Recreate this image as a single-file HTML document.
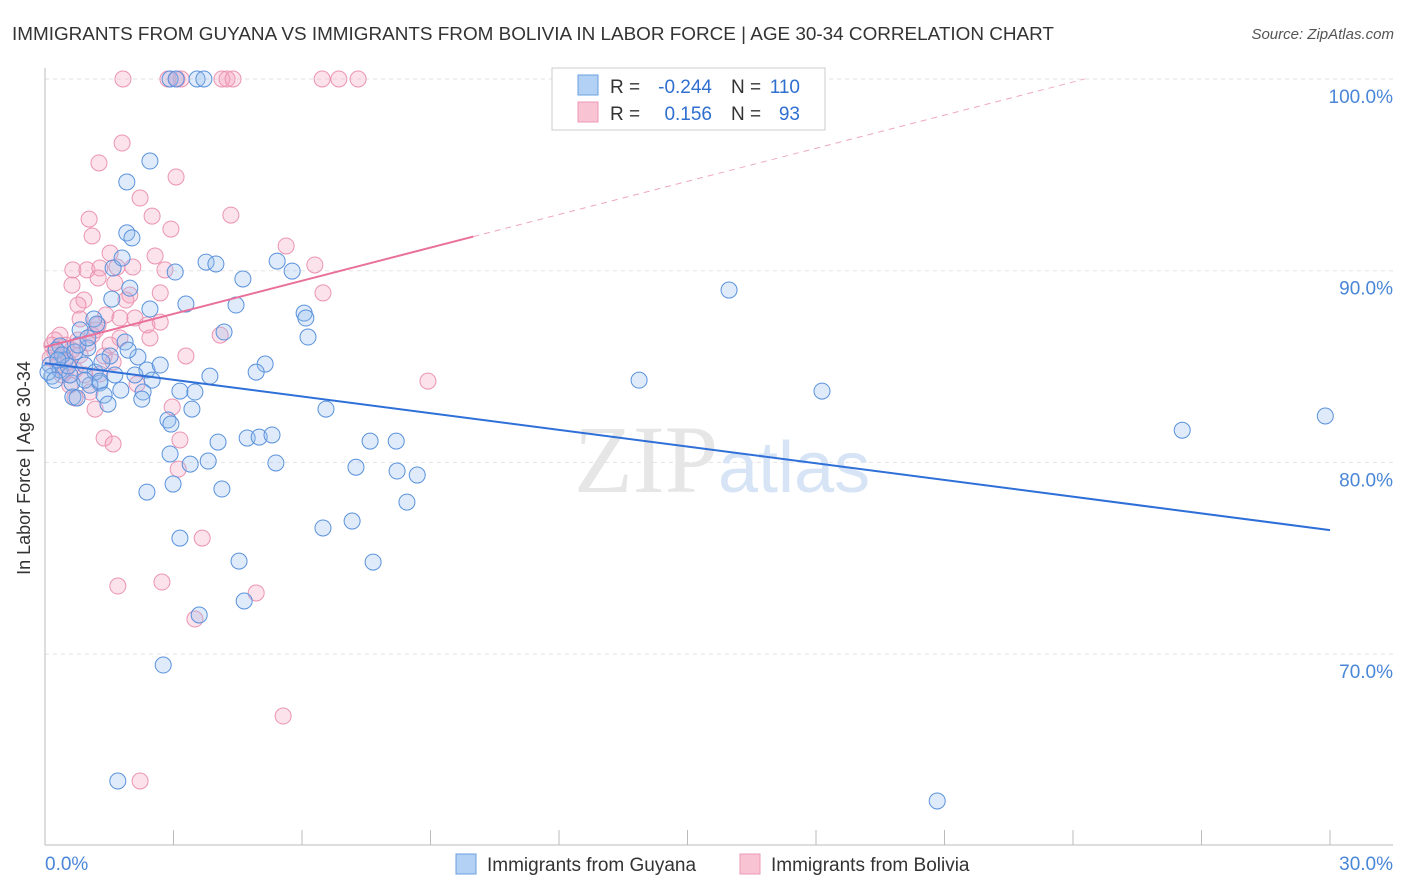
<!DOCTYPE html>
<html><head><meta charset="utf-8"><style>
body{margin:0;background:#fff;font-family:"Liberation Sans",sans-serif;}
#wrap{position:relative;width:1406px;height:892px;overflow:hidden;}
</style></head><body>
<div id="wrap">
<svg id="svg" width="1406" height="892" xmlns="http://www.w3.org/2000/svg">
<text x="12" y="40" font-size="18.9" fill="#333">IMMIGRANTS FROM GUYANA VS IMMIGRANTS FROM BOLIVIA IN LABOR FORCE | AGE 30-34 CORRELATION CHART</text>
<text x="1394" y="39" font-size="15" fill="#555" text-anchor="end" font-style="italic">Source: ZipAtlas.com</text>
<text x="20" y="458" font-size="18" fill="#333" text-anchor="middle" transform="rotate(-90 30 458)">In Labor Force | Age 30-34</text>
<g id="grid"></g>
<text x="718" y="492" font-size="96" fill="#e6e6e6" text-anchor="end" font-family="Liberation Serif,serif">ZIP</text>
<text x="718" y="492" font-size="72" fill="#d6e4f6">atlas</text>
<g id="pts"></g>
<g id="trend"></g>
<g>
<rect x="552" y="68" width="273" height="62" fill="#fff" stroke="#ccc"/>
<rect x="578" y="75" width="20" height="20" fill="#b3d0f5" stroke="#6a9fe0"/>
<rect x="578" y="102" width="20" height="20" fill="#f8c3d3" stroke="#ec9ab5"/>
<g font-size="19" fill="#333">
<text x="610" y="93">R =</text><text x="712" y="93" text-anchor="end" fill="#2f6fd0">-0.244</text>
<text x="731" y="93">N =</text><text x="800" y="93" text-anchor="end" fill="#2f6fd0">110</text></g>
<g font-size="19" fill="#333">
<text x="610" y="120">R =</text><text x="712" y="120" text-anchor="end" fill="#2f6fd0">0.156</text>
<text x="731" y="120">N =</text><text x="800" y="120" text-anchor="end" fill="#2f6fd0">93</text></g>
</g>
<g>
<rect x="456" y="854" width="20" height="20" fill="#b3d0f5" stroke="#6a9fe0"/>
<text x="487" y="871" font-size="19" fill="#333">Immigrants from Guyana</text>
<rect x="740" y="854" width="20" height="20" fill="#f8c3d3" stroke="#ec9ab5"/>
<text x="771" y="871" font-size="19" fill="#333">Immigrants from Bolivia</text>
</g>
</svg>
</div>
<script>
const xTicks=[0,30];
const yTicks=[100,90,80,70];
const guyanaX=[1.91,2.45,1.91,2.03,1.59,1.80,3.04,3.76,3.99,4.62,5.42,5.77,15.97,1.56,1.98,2.45,3.29,4.46,6.05,6.09,4.18,6.14,1.14,1.21,0.82,1.87,0.35,1.00,1.52,2.17,5.14,4.93,2.38,3.85,13.87,18.14,2.50,1.28,1.05,0.63,3.15,3.50,2.29,2.26,1.77,1.38,0.65,1.47,3.43,6.56,29.89,2.87,2.94,4.04,4.72,5.0,5.30,7.59,8.20,26.55,2.92,3.81,3.39,5.39,7.26,8.22,8.69,2.99,2.38,4.13,8.45,6.49,7.17,3.15,4.53,7.66,4.65,3.60,2.76,1.70,20.83,0.26,0.12,0.16,0.35,0.47,0.58,0.07,0.23,0.40,0.70,0.93,1.17,0.77,0.54,0.30,2.92,3.06,3.55,3.71,1.28,1.63,0.93,2.10,2.69,1.33,0.75,1.94,1.0];
const guyanaY=[94.63,95.72,91.97,91.71,90.14,90.66,89.93,90.45,90.35,89.57,90.50,89.98,88.99,88.52,89.09,88.0,88.26,88.21,87.79,87.53,86.80,86.54,87.48,87.22,86.91,86.28,86.07,85.97,85.55,85.50,85.13,84.71,84.82,84.50,84.29,83.72,84.29,84.14,84.03,84.14,83.72,83.67,83.67,83.30,83.77,83.51,83.41,83.04,82.78,82.78,82.42,82.21,82.0,81.06,81.27,81.32,81.43,81.11,81.11,81.68,80.44,80.07,79.91,79.97,79.75,79.55,79.34,78.87,78.45,78.61,77.93,76.58,76.94,76.05,74.85,74.80,72.77,72.04,69.43,63.38,62.34,85.86,85.08,84.50,84.82,85.34,84.56,84.71,84.29,85.60,85.76,85.08,84.71,86.12,85.03,85.34,100,100,100,100,84.24,84.56,84.29,84.56,85.08,85.24,83.36,85.86,86.49];
const boliviaX=[1.82,2.87,3.08,3.18,4.13,4.25,4.39,6.47,6.86,7.31,1.80,1.26,3.06,2.22,2.50,4.34,1.03,2.94,1.10,5.63,1.52,2.57,6.30,0.65,0.98,1.28,1.68,2.05,2.80,1.24,1.63,0.63,1.98,2.69,6.49,0.91,0.77,1.89,0.82,1.24,1.42,1.75,2.10,2.38,2.69,0.35,2.45,4.09,1.75,1.10,0.63,0.23,0.42,0.82,1.38,3.29,1.59,8.94,2.15,0.58,1.05,0.70,1.17,2.97,3.15,1.38,1.59,3.11,3.67,1.70,2.73,4.93,3.50,5.56,2.22,0.16,0.30,0.47,0.12,0.54,0.70,0.93,1.28,0.23,0.40,1.0,0.49,0.77,1.19,1.52];
const boliviaY=[100,100,100,100,100,100,100,100,100,100,96.66,95.62,94.89,93.79,92.85,92.90,92.69,92.17,91.81,91.29,90.92,90.77,90.30,90.04,90.04,90.14,90.19,90.19,90.04,89.62,89.36,89.25,88.73,88.84,88.84,88.47,88.21,88.47,87.48,87.17,87.69,87.53,87.53,87.17,87.32,86.64,86.49,86.64,86.49,86.64,85.86,85.76,85.60,85.60,85.55,85.55,85.24,84.24,84.09,84.03,83.67,83.36,82.78,82.89,81.17,81.27,80.96,79.65,76.05,73.55,73.76,73.19,71.83,66.77,63.38,86.12,85.08,84.71,85.44,85.24,84.82,84.56,84.61,86.38,84.56,86.23,86.12,86.38,86.91,86.12];
const guyanaTrend=[85.18,-0.2904];
const boliviaTrend=[86.02,0.576];
const NS="http://www.w3.org/2000/svg";
const X=v=>45+v*(1285/30);
const Y=v=>79+(100-v)*19.17;
function mk(t,a,p){const e=document.createElementNS(NS,t);for(const k in a)e.setAttribute(k,a[k]);p.appendChild(e);return e;}
const grid=document.getElementById('grid');
yTicks.forEach(t=>{
 const l=mk('line',{x1:45,x2:1393,y1:Y(t),y2:Y(t),stroke:'#e2e2e2','stroke-dasharray':'4,4'},grid);
 
 
 const tx=mk('text',{x:1393,y:Y(t)+24,'font-size':19,fill:'#4a86d8','text-anchor':'end'},grid);
 tx.textContent=t.toFixed(1)+'%';
 
 
});
mk('line',{x1:45,x2:45,y1:68,y2:845,stroke:'#bbb'},grid);
mk('line',{x1:45,x2:1393,y1:845,y2:845,stroke:'#bbb'},grid);
for(let i=1;i<=10;i++){mk('line',{x1:X(i*3),x2:X(i*3),y1:830,y2:845,stroke:'#bbb'},grid);}
xTicks.forEach((t,i)=>{
 const tx=mk('text',{x:i?1393:45,y:870,'font-size':19,fill:'#4a86d8','text-anchor':i?'end':'start'},grid);
 tx.textContent=t.toFixed(1)+'%';
 
 
});
const pts=document.getElementById('pts');
boliviaX.forEach((x,i)=>{
 const c=mk('circle',{cx:X(x),cy:Y(boliviaY[i]),r:8,fill:'rgba(244,160,190,0.3)',stroke:'#eb94b2','stroke-width':1},pts);
 
 
});
guyanaX.forEach((x,i)=>{
 const c=mk('circle',{cx:X(x),cy:Y(guyanaY[i]),r:8,fill:'rgba(150,190,240,0.3)',stroke:'#5a92dc','stroke-width':1},pts);
 
 
});
const tr=document.getElementById('trend');
const bl=mk('line',{x1:X(0),y1:Y(guyanaTrend[0]),x2:X(30),y2:Y(guyanaTrend[0]+30*guyanaTrend[1]),stroke:'#2f6fd8','stroke-width':2},tr);


const pe=10, pd=(100-boliviaTrend[0])/boliviaTrend[1];
const pl=mk('line',{x1:X(0),y1:Y(boliviaTrend[0]),x2:X(pe),y2:Y(boliviaTrend[0]+pe*boliviaTrend[1]),stroke:'#e8709a','stroke-width':2},tr);


const pdl=mk('line',{x1:X(pe),y1:Y(boliviaTrend[0]+pe*boliviaTrend[1]),x2:X(pd),y2:Y(100),stroke:'#f0a8c0','stroke-width':1,'stroke-dasharray':'6,5'},tr);


</script>
</body></html>
